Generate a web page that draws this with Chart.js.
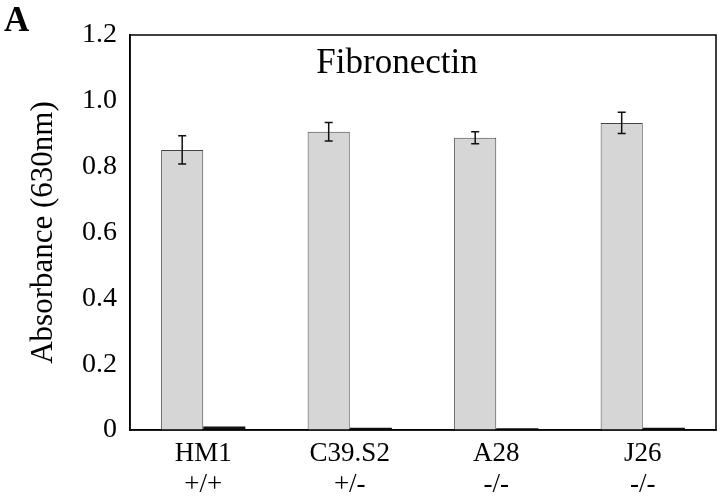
<!DOCTYPE html>
<html>
<head>
<meta charset="utf-8">
<script src="https://cdn.jsdelivr.net/npm/chart.js@4/dist/chart.umd.min.js"></script>
<style>
  html, body { margin: 0; padding: 0; background: #fff; }
  #wrap { position: relative; width: 720px; height: 496px; }
  #panel { position: absolute; left: 4px; top: 0px; font: bold 35px "Liberation Serif", serif; color: #000; }
</style>
</head>
<body>
<div id="wrap">
  <canvas id="chart" width="720" height="496"></canvas>
  <div id="panel">A</div>
</div>
<script>
// Data
const cellLines = [['HM1', '+/+'], ['C39.S2', '+/-'], ['A28', '-/-'], ['J26', '-/-']];
const fibronectin = [0.851, 0.906, 0.888, 0.933];
const fibronectinErr = [0.043, 0.028, 0.018, 0.032];
const control = [0.011, 0.007, 0.005, 0.007];
const yTicks = [0, 0.2, 0.4, 0.6, 0.8, 1.0, 1.2];

const serif = '"Liberation Serif", "Times New Roman", serif';

const frameAndErrors = {
  id: 'frameAndErrors',
  afterDatasetsDraw(chart) {
    const ctx = chart.ctx;
    const a = chart.chartArea;
    const y = chart.scales.y;
    const meta = chart.getDatasetMeta(0);
    ctx.save();
    ctx.strokeStyle = '#111';
    ctx.lineWidth = 1.5;
    meta.data.forEach((bar, i) => {
      const hi = y.getPixelForValue(fibronectin[i] + fibronectinErr[i]);
      const lo = y.getPixelForValue(fibronectin[i] - fibronectinErr[i]);
      ctx.beginPath();
      ctx.moveTo(bar.x, hi); ctx.lineTo(bar.x, lo);
      ctx.moveTo(bar.x - 4, hi); ctx.lineTo(bar.x + 4, hi);
      ctx.moveTo(bar.x - 4, lo); ctx.lineTo(bar.x + 4, lo);
      ctx.stroke();
    });
    ctx.strokeStyle = '#000';
    ctx.lineWidth = 1.5;
    ctx.strokeRect(a.left, a.top, a.right - a.left, a.bottom - a.top);
    ctx.fillStyle = '#000';
    ctx.font = '35px ' + serif;
    ctx.textAlign = 'center';
    ctx.textBaseline = 'alphabetic';
    ctx.fillText('Fibronectin', (a.left + a.right) / 2 - 26, a.top + 38);
    ctx.restore();
  }
};

new Chart(document.getElementById('chart'), {
  type: 'bar',
  data: {
    labels: cellLines,
    datasets: [
      { label: 'Fibronectin', data: fibronectin, backgroundColor: '#d6d6d6', borderColor: '#444', borderWidth: 1 },
      { label: 'Control', data: control, backgroundColor: '#111', borderColor: '#111', borderWidth: 0 }
    ]
  },
  options: {
    responsive: false,
    animation: false,
    layout: { padding: { top: 35, right: 4, left: 20, bottom: 0 } },
    plugins: { legend: { display: false }, tooltip: { enabled: false } },
    datasets: { bar: { categoryPercentage: 0.575, barPercentage: 1.0 } },
    scales: {
      x: {
        grid: { display: false },
        border: { display: true, color: '#000', width: 1.5 },
        ticks: { color: '#000', font: { family: serif, size: 27, lineHeight: 1.15 }, padding: 0, maxRotation: 0 },
        afterFit: s => { s.height = 66; }
      },
      y: {
        min: 0, max: 1.2,
        grid: { display: false },
        border: { display: true, color: '#000', width: 1.5 },
        afterBuildTicks: s => { s.ticks = yTicks.map(v => ({ value: v })); },
        ticks: {
          color: '#000', padding: 5,
          font: { family: serif, size: 28 },
          callback: v => v === 0 ? '0' : v.toFixed(1)
        },
        title: { display: true, text: 'Absorbance (630nm)', color: '#000', font: { family: serif, size: 31 }, padding: { top: 5, bottom: 0 } },
        afterFit: s => { s.width = 110; }
      }
    }
  },
  plugins: [frameAndErrors]
});
</script>
</body>
</html>
